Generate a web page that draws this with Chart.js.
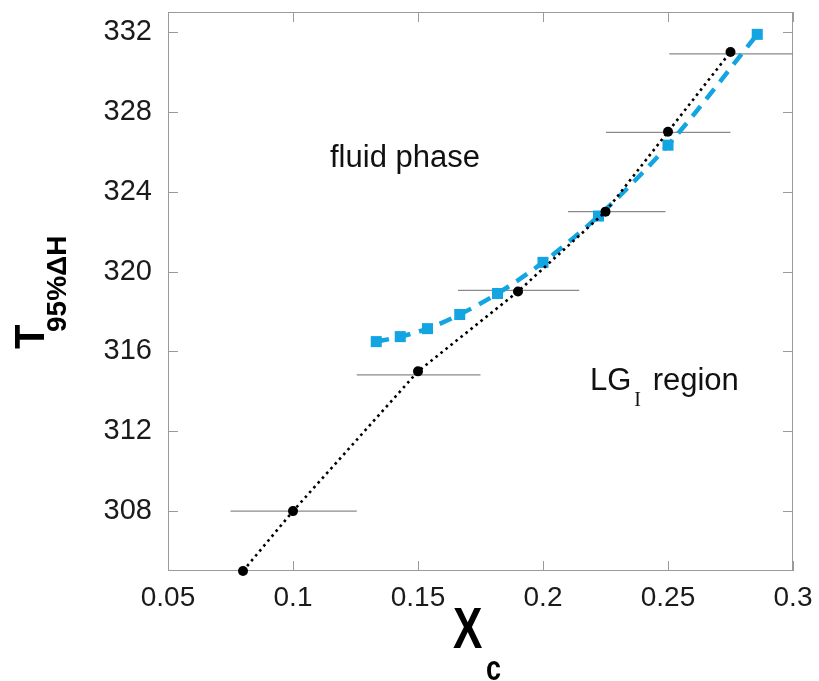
<!DOCTYPE html>
<html><head><meta charset="utf-8">
<script src="https://cdn.jsdelivr.net/npm/chart.js@4.4.1/dist/chart.umd.min.js"></script>
<style>html,body{margin:0;padding:0;background:#fff;}canvas{display:block;}</style>
</head><body>
<canvas id="c" width="819" height="681"></canvas>
<script>
// ---- data ----
const xTicks = [0.05, 0.1, 0.15, 0.2, 0.25, 0.3];
const xTickLabels = ['0.05', '0.1', '0.15', '0.2', '0.25', '0.3'];
const yTicks = [308, 312, 316, 320, 324, 328, 332];
const yTickLabels = ['308', '312', '316', '320', '324', '328', '332'];

const blackX = [0.08, 0.1, 0.15, 0.19, 0.225, 0.25, 0.275];
const blackY = [305, 308, 315, 319, 323, 327, 331];

const blueX = [0.1333, 0.1429, 0.1538, 0.1667, 0.1818, 0.2, 0.2222, 0.25, 0.2857];
const blueY = [316.49, 316.74, 317.14, 317.85, 318.9, 320.46, 322.78, 326.33, 331.88];

const errY  = [308, 314.82, 319.06, 323, 326.97, 330.9];
const errLo = [0.075, 0.1255, 0.166, 0.21, 0.2252, 0.2505];
const errHi = [0.1255, 0.175, 0.2145, 0.249, 0.275, 0.3];

const annFluid = {text: 'fluid phase', x: 0.1148, y: 325.22};
const annLG = {main: 'LG', sub: 'I', rest: ' region', x: 0.2188, y: 314.08};

// ---- build datasets ----
const FONT = "'Liberation Sans', Arial, Helvetica, sans-serif";
const datasets = [];
datasets.push({
  label: 'black', data: blackX.map((x, i) => ({x, y: blackY[i]})),
  borderColor: '#000', backgroundColor: '#000', borderWidth: 2.6,
  borderDash: [2.6, 3.8], pointRadius: 5, pointHoverRadius: 5,
  pointBorderWidth: 0, tension: 0, order: 0, clip: false
});
datasets.push({
  label: 'blue', data: blueX.map((x, i) => ({x, y: blueY[i]})),
  borderColor: '#13A4E2', backgroundColor: '#13A4E2', borderWidth: 4.5,
  borderDash: [13, 9], pointStyle: 'rect', pointRadius: 7.8, pointHoverRadius: 7.8,
  pointBorderWidth: 0, cubicInterpolationMode: 'monotone', order: 1, clip: false
});
errY.forEach((y, i) => {
  datasets.push({
    label: 'err' + i, data: [{x: errLo[i], y}, {x: errHi[i], y}],
    borderColor: '#8a8a8a', borderWidth: 1.2, pointRadius: 0, order: 2
  });
});

const framePlugin = {
  id: 'frame',
  beforeDatasetsDraw(chart) {
    const {ctx, chartArea: a, scales: {x, y}} = chart;
    ctx.save();
    ctx.strokeStyle = '#9a9a9a';
    ctx.lineWidth = 1;
    ctx.strokeRect(a.left + 0.5, a.top + 0.5, a.right - a.left - 1, a.bottom - a.top - 1);
    ctx.beginPath();
    const L = 10;
    yTicks.forEach(v => {
      const p = Math.round(y.getPixelForValue(v)) + 0.5;
      ctx.moveTo(a.left, p); ctx.lineTo(a.left + L, p);
      ctx.moveTo(a.right, p); ctx.lineTo(a.right - L, p);
    });
    xTicks.forEach(v => {
      const p = Math.round(x.getPixelForValue(v)) + 0.5;
      ctx.moveTo(p, a.bottom); ctx.lineTo(p, a.bottom - L);
      ctx.moveTo(p, a.top); ctx.lineTo(p, a.top + L);
    });
    ctx.stroke();
    ctx.restore();
  },
  afterDraw(chart) {
    const {ctx, scales: {x, y}} = chart;
    ctx.save();
    ctx.fillStyle = '#111';
    ctx.textBaseline = 'alphabetic';
    ctx.textAlign = 'left';
    // annotations
    ctx.font = '31px ' + FONT;
    ctx.fillText(annFluid.text, x.getPixelForValue(annFluid.x), y.getPixelForValue(annFluid.y));
    let lx = x.getPixelForValue(annLG.x), ly = y.getPixelForValue(annLG.y);
    ctx.fillText(annLG.main, lx, ly);
    lx += ctx.measureText(annLG.main).width + 3;
    ctx.font = "20px 'Liberation Serif', 'Times New Roman', serif";
    ctx.fillText(annLG.sub, lx, ly + 16);
    lx += ctx.measureText(annLG.sub).width;
    ctx.font = '31px ' + FONT;
    ctx.fillText(annLG.rest, lx + 3, ly);
    // y title
    ctx.fillStyle = '#000';
    ctx.save();
    ctx.translate(44, 349);
    ctx.rotate(-Math.PI / 2);
    ctx.scale(1, 1.08);
    ctx.font = 'bold 40px ' + FONT;
    ctx.fillText('T', 0, 0);
    ctx.restore();
    ctx.save();
    ctx.translate(66, 332);
    ctx.rotate(-Math.PI / 2);
    ctx.font = 'bold 28px ' + FONT;
    ctx.fillText('95%\u0394H', 0, 0);
    ctx.restore();
    // x title (tall, condensed look)
    ctx.save();
    ctx.translate(453, 648);
    ctx.scale(1.05, 1.35);
    ctx.font = 'bold 42px ' + FONT;
    ctx.fillText('X', 0, 0);
    ctx.restore();
    ctx.save();
    ctx.translate(486, 680);
    ctx.scale(1, 1.3);
    ctx.font = 'bold 27px ' + FONT;
    ctx.fillText('c', 0, 0);
    ctx.restore();
    ctx.restore();
  }
};

new Chart(document.getElementById('c'), {
  type: 'line',
  data: {datasets},
  options: {
    responsive: false, devicePixelRatio: 1, animation: false,
    layout: {padding: {left: 0, right: 26, top: 12, bottom: 0}},
    plugins: {legend: {display: false}, tooltip: {enabled: false}},
    elements: {line: {fill: false}},
    scales: {
      x: {
        type: 'linear', min: 0.05, max: 0.3,
        afterBuildTicks: s => { s.ticks = xTicks.map(v => ({value: v})); },
        afterFit: s => { s.height = 110; s.paddingLeft = 0; s.paddingRight = 0; },
        ticks: {
          callback: (v) => { const i = xTicks.findIndex(t => Math.abs(t - v) < 1e-9); return i >= 0 ? xTickLabels[i] : ''; },
          font: {family: FONT, size: 28}, color: '#1a1a1a', padding: 10, maxRotation: 0, autoSkip: false
        },
        grid: {display: false, drawTicks: false},
        border: {display: false}
      },
      y: {
        type: 'linear', min: 305, max: 333,
        afterBuildTicks: s => { s.ticks = yTicks.map(v => ({value: v})); },
        afterFit: s => { s.width = 168; s.paddingTop = 0; s.paddingBottom = 0; },
        ticks: {
          callback: (v) => { const i = yTicks.indexOf(v); return i >= 0 ? yTickLabels[i] : ''; },
          font: {family: FONT, size: 29}, color: '#1a1a1a', padding: 16, autoSkip: false
        },
        grid: {display: false, drawTicks: false},
        border: {display: false}
      }
    }
  },
  plugins: [framePlugin]
});
</script>
</body></html>
